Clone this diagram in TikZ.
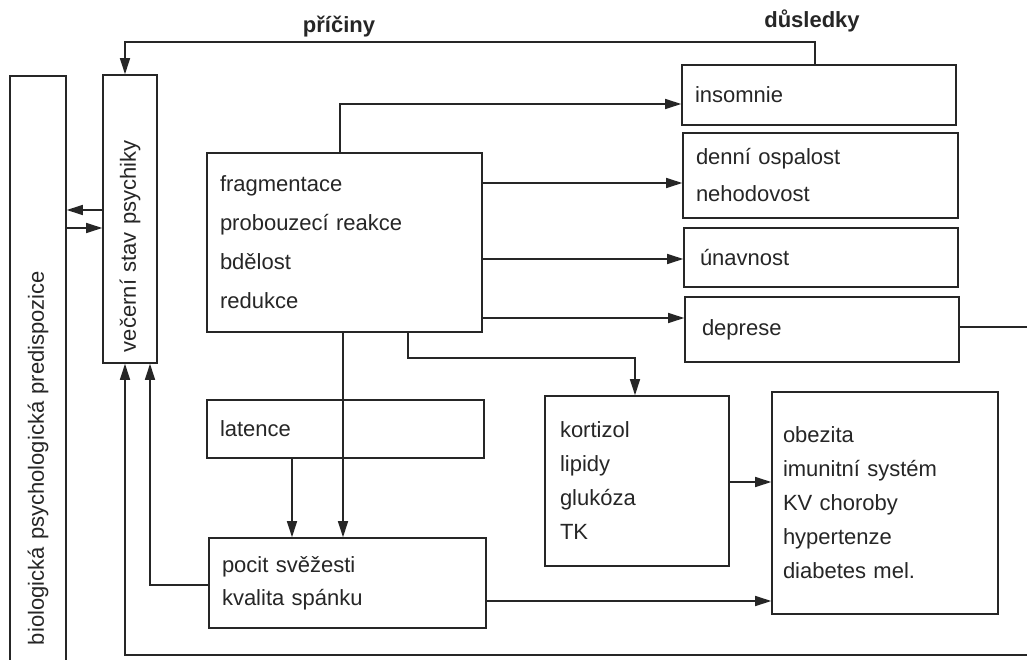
\documentclass[tikz,border=0pt]{standalone}
\usepackage{fontspec}
\setmainfont{Liberation Sans}
\usetikzlibrary{arrows.meta}
\begin{document}
\begin{tikzpicture}[x=1pt,y=-1pt,
  every node/.style={font=\fontsize{22}{34}\selectfont, text=black!85},
  box/.style={draw=black!85, line width=1.6pt, inner ysep=0pt, inner xsep=13pt, align=left},
  conn/.style={draw=black!85, line width=1.5pt},
  arr/.style={conn, -{Triangle[length=16pt,width=10pt]}},
  lbl/.style={font=\fontsize{22}{26}\selectfont\bfseries}]
\useasboundingbox (0,0) rectangle (1027,660);
\clip (0,0) rectangle (1027,660);
\fill[white] (0,0) rectangle (1027,660);

% left vertical boxes (rotated: west = bottom, east = top, north = left, south = right)
\node[box, rotate=90, minimum width=604pt, text width=534pt, inner xsep=35pt, minimum height=56pt] (bio) at (38,378) {biologická psychologická predispozice};
\node[box, rotate=90, minimum width=288pt, text width=266pt, inner xsep=11pt, minimum height=54pt] (vec) at (130,219) {večerní stav psychiky};

% main boxes
\node[box, minimum width=275pt, minimum height=179pt, text width=249pt, font=\fontsize{22}{39}\selectfont] (frag) at (344.5,242.5)
  {fragmentace\\probouzecí reakce\\bdělost\\redukce};
\node[box, minimum width=274pt, minimum height=60pt, text width=248pt] (ins) at (819,95) {insomnie};
\node[box, minimum width=275pt, minimum height=85pt, text width=249pt, font=\fontsize{22}{37}\selectfont] (den) at (820.5,175.5) {denní ospalost\\nehodovost};
\node[box, minimum width=274pt, minimum height=59pt, text width=242pt, inner xsep=16pt] (unav) at (821,257.5) {únavnost};
\node[box, minimum width=274pt, minimum height=65pt, text width=240pt, inner xsep=17pt] (dep) at (822,329.5) {deprese};
\node[box, minimum width=184pt, minimum height=170pt, text width=154pt, inner xsep=15pt] (kort) at (637,481) {kortizol\\lipidy\\glukóza\\TK};
\node[box, minimum width=226pt, minimum height=222pt, text width=204pt, inner xsep=11pt] (obez) at (885,503) {obezita\\imunitní systém\\KV choroby\\hypertenze\\diabetes mel.};
\node[box, minimum width=277pt, minimum height=58pt, text width=251pt] (lat) at (345.5,429) {latence};
\node[box, minimum width=277pt, minimum height=90pt, text width=251pt, font=\fontsize{22}{33}\selectfont] (pocit) at (347.5,583) {pocit svěžesti\\kvalita spánku};

% labels
\node[lbl] (pric) at (339,27) {příčiny};
\node[lbl] (dus) at (812,21) {důsledky};

% connectors
\draw[arr] (815,0 |- ins.north) -- (815,42) -| (125,0 |- vec.east);
\draw[arr] (340,0 |- frag.north) |- (ins.west |- 0,104);
\draw[arr] (frag.east |- 0,183) -- (den.west |- 0,183);
\draw[arr] (frag.east |- 0,259) -- (unav.west |- 0,259);
\draw[arr] (frag.east |- 0,318) -- (dep.west |- 0,318);
\draw[arr] (408,0 |- frag.south) -- (408,358) -| (635,0 |- kort.north);
\draw[arr] (343,0 |- frag.south) -- (343,0 |- pocit.north);
\draw[arr] (292,0 |- lat.south) -- (292,0 |- pocit.north);
\draw[arr] (pocit.west |- 0,585) -| (150,0 |- vec.west);
\draw[arr] (pocit.east |- 0,601) -- (obez.west |- 0,601);
\draw[arr] (kort.east |- 0,482) -- (obez.west |- 0,482);
\draw[arr] (vec.north |- 0,210) -- (bio.south |- 0,210);
\draw[arr] (bio.south |- 0,228) -- (vec.north |- 0,228);
\draw[arr] (dep.east |- 0,327) -- (1050,327) |- (125,655) -- (125,0 |- vec.west);
\end{tikzpicture}
\end{document}
